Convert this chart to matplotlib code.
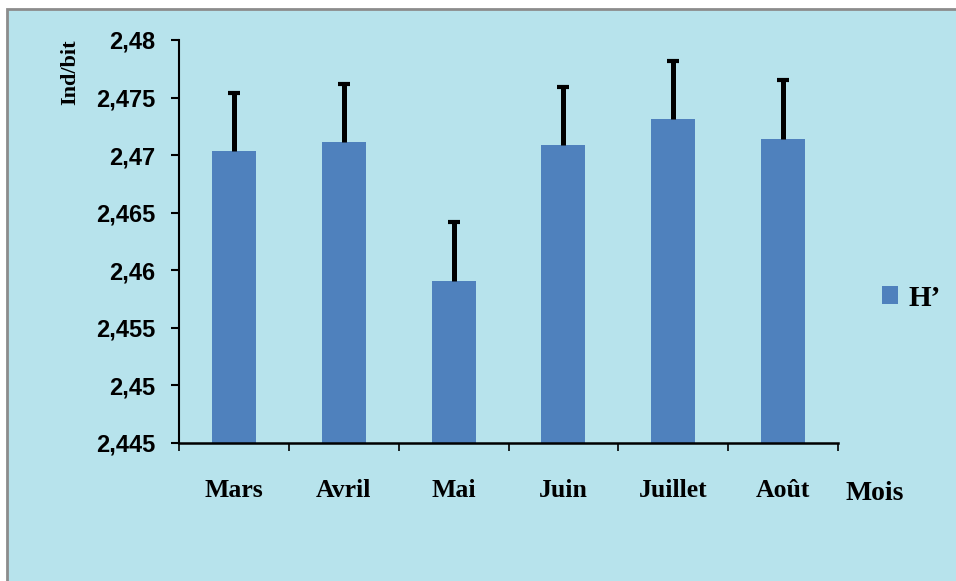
import matplotlib
matplotlib.use("Agg")
import matplotlib.pyplot as plt
from matplotlib.patches import Rectangle

months = ["Mars", "Avril", "Mai", "Juin", "Juillet", "Août"]
h_values = [2.4704, 2.4711, 2.4591, 2.4709, 2.4731, 2.4714]
h_errors = [0.0050, 0.0051, 0.0051, 0.0050, 0.0051, 0.0051]
y_ticks = [2.445, 2.45, 2.455, 2.46, 2.465, 2.47, 2.475, 2.48]
y_tick_labels = ["2,445", "2,45", "2,455", "2,46", "2,465", "2,47", "2,475", "2,48"]

bg = "#b7e3ec"
bar_color = "#4f81bd"
serif_bold = dict(family=["Liberation Serif", "DejaVu Serif"], weight="bold")
sans_bold = dict(family=["Liberation Sans Narrow", "Liberation Sans", "DejaVu Sans"], weight="bold")

fig = plt.figure(figsize=(9.56, 5.81), dpi=100)
fig.patch.set_facecolor("white")

# light blue panel with grey frame, running off the right and bottom edges
panel = Rectangle((7 / 956, -5 / 581), 960 / 956, 577 / 581, transform=fig.transFigure,
                  facecolor=bg, edgecolor="#8c8c8c", linewidth=2, zorder=-10)
fig.patches.append(panel)

ax = fig.add_axes([179 / 956, 1 - 443 / 581, (838 - 179) / 956, (443 - 40) / 581])
ax.set_facecolor("none")

x = list(range(len(months)))
bars = ax.bar(x, h_values, width=0.4, color=bar_color, zorder=2, label="H\u2019")
eb = ax.errorbar(x, h_values, yerr=[[0] * len(months), h_errors], fmt="none",
                 ecolor="black", elinewidth=3.6, capsize=4.5, capthick=3, zorder=3)
# keep only the upper caps
_, caplines, _ = eb.lines
caplines[0].remove()

ax.set_ylim(2.445, 2.48)
ax.set_xlim(-0.5, len(months) - 0.5)

ax.set_yticks(y_ticks)
ax.set_yticklabels(y_tick_labels, fontsize=17, **sans_bold)
ax.tick_params(axis="y", direction="out", length=6, width=1.5, pad=11)

ax.set_xticks(x)
ax.set_xticklabels(months, fontsize=18.5, **serif_bold)
ax.set_xticks([i - 0.5 for i in range(len(months) + 1)], minor=True)
ax.tick_params(axis="x", which="major", length=0, pad=26)
ax.tick_params(axis="x", which="minor", direction="out", length=6, width=1.2)

for side in ("top", "right"):
    ax.spines[side].set_visible(False)
ax.spines["left"].set_linewidth(1.5)
ax.spines["bottom"].set_linewidth(1.8)

fig.text(70 / 956, 1 - 72 / 581, "Ind/bit", rotation=90, ha="center", va="center",
         fontsize=16, **serif_bold)
fig.text(875 / 956, 1 - 493 / 581, "Mois", ha="center", va="center",
         fontsize=20, **serif_bold)

leg = fig.legend(handles=[bars], loc="center left", bbox_to_anchor=(856 / 956, 1 - 298 / 581),
                 frameon=False, prop=dict(size=21, **serif_bold),
                 handlelength=0.55, handleheight=0.55, handletextpad=0.35)

fig.savefig("out.png", dpi=100, facecolor=fig.get_facecolor())
